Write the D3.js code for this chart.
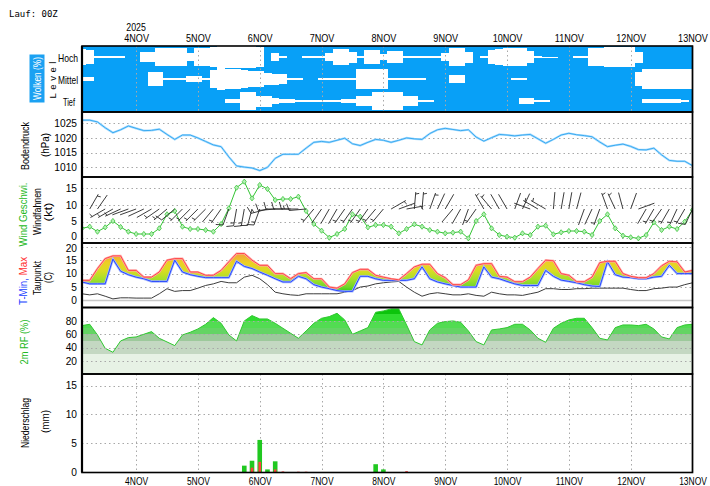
<!DOCTYPE html>
<html>
<head>
<meta charset="utf-8">
<script src="https://cdn.jsdelivr.net/npm/d3@7"></script>
<style>
  body { margin: 0; background: #fff; }
  svg { display: block; font-family: "Liberation Sans", Arial, sans-serif; }
  .tick text { font-size: 10.2px; fill: #000; }
  .grid line { stroke: #a8a8a8; stroke-dasharray: 1.5,3; }
</style>
</head>
<body>
<svg id="chart" width="710" height="486"></svg>
<script>
// 3-hourly steps, first step 3 Nov 03Z (run 00Z)
var dayLabels = ['4NOV','5NOV','6NOV','7NOV','8NOV','9NOV','10NOV','11NOV','12NOV','13NOV'];
var levels = ['Hoch', 'Mittel', 'Tief'];
var pressTicks = [1010, 1015, 1020, 1025];
var windTicks = [0, 5, 10, 15];
var tempTicks = [0, 5, 10, 15, 20];
var rhTicks = [20, 40, 60, 80];
var precipTicks = [0, 5, 10, 15];

var cloudHigh = [25,35,95,95,95,95,100,100,53,53, 15,15,15,15,60,15,15,10,0,0,
  0,0,0,5,100,65,95,100,100,95, 95,95,60,25,25,50,95,40,40,70,
  45,45,95,95,95,95,95,60,20,20, 50,100,95,35,25,20,20,20,45,95,
  98,98,100,100,95,95,20,20,10,10, 10,10,50,100,100,100,100,100,100,100];
var cloudMid = [80,80,100,100,100,100,100,100,100,35, 35,95,95,95,70,70,95,20,0,10,
  10,15,30,25,45,50,55,95,95,100, 100,95,95,95,95,90,10,10,10,10,
  95,95,95,95,95,100,100,100,65,65, 100,100,100,100,100,100,95,95,100,100,
  100,100,100,100,100,100,100,100,100,100, 100,100,40,5,5,5,5,5,5,5];
var cloudLow = [100,100,100,100,100,100,100,100,100,100, 100,100,100,100,100,100,100,100,100,80,
  80,15,15,50,50,70,80,80,95,95, 95,95,95,95,80,80,55,55,20,20,
  20,20,55,55,95,95,100,100,100,100, 100,100,100,100,100,100,100,70,70,95,
  95,100,100,100,100,100,100,100,100,100, 100,100,100,85,85,85,85,85,95,100];

var pressure = [1026.1,1026.1,1025.5,1023.5,1021.8,1022.8,1024.1,1023.3,1022.5,1022.6,
  1023.0,1021.2,1019.5,1021.0,1021.0,1020.0,1018.8,1017.6,1017.0,1013.5,
  1010.4,1010.0,1009.7,1008.8,1009.9,1013.0,1014.4,1014.4,1014.4,1016.5,
  1018.5,1018.8,1018.5,1019.2,1019.9,1018.0,1017.4,1018.5,1019.5,1019.2,
  1018.5,1019.2,1020.0,1019.7,1019.5,1021.5,1022.8,1023.3,1022.9,1022.5,
  1022.8,1020.3,1018.9,1020.1,1021.2,1021.0,1020.7,1021.0,1021.2,1019.7,
  1018.2,1019.5,1021.0,1021.6,1021.1,1020.8,1020.4,1018.6,1017.0,1017.5,
  1017.9,1017.1,1016.0,1015.9,1016.5,1014.2,1012.3,1012.0,1012.0,1010.5];

var windSpeed = [3.0,3.5,2.0,3.3,5.2,3.4,2.0,1.3,1.3,1.3,
  3.0,7.2,8.2,3.5,2.8,2.8,2.5,2.0,4.3,9.0,
  15.2,17.0,12.0,16.0,14.8,11.5,11.8,11.8,12.5,8.2,
  4.3,2.3,0.2,1.3,2.8,7.2,6.5,3.3,4.0,4.0,
  3.5,1.5,2.8,4.2,3.5,2.5,2.0,1.5,1.7,2.0,
  0.0,5.2,7.2,3.0,1.0,0.5,0.2,1.5,1.0,3.5,
  3.8,1.2,1.8,2.2,2.2,2.0,1.0,5.2,7.2,3.0,
  0.8,0.3,0.0,1.0,4.8,2.5,3.5,2.8,5.0,8.5];
var windDir = [350,30,35,240,240,245,250,250,245,240,
  235,230,230,225,225,225,225,220,215,200,
  190,190,195,200,255,265,270,270,270,265,
  220,215,210,210,215,215,215,215,220,220,
  60,70,80,5,5,20,25,30,220,210,
  200,215,330,320,330,330,20,25,290,300,
  300,5,10,10,15,200,205,200,340,335,
  345,20,70,210,210,215,210,205,210,205];

var tMax = [7.5,7.5,11.9,15.6,16.6,16.6,11.2,11.2,8.7,8.7,
  10.6,15.0,15.6,15.6,10.6,10.6,9.4,9.4,11.2,14.4,
  17.5,17.5,15.0,13.1,13.1,10.0,10.0,8.1,10.0,10.4,
  8.1,8.1,5.0,4.6,6.2,10.4,11.6,11.6,9.4,8.7,
  8.1,7.7,10.0,12.5,13.5,13.5,10.0,8.5,5.9,5.9,
  7.7,13.1,13.7,13.7,9.0,8.7,7.0,7.0,8.7,11.9,
  15.0,14.8,10.0,9.4,7.0,7.0,8.7,14.1,14.6,14.6,
  10.0,9.0,8.5,8.5,10.0,12.9,14.6,14.4,10.6,11.2];
var tMin = [6.9,6.2,6.2,6.2,15.4,10.9,9.6,8.7,8.1,7.1,
  7.1,7.1,15.0,10.6,9.6,9.0,8.5,8.5,8.5,8.5,
  14.6,12.7,11.9,10.6,9.4,8.1,6.9,6.9,9.0,8.1,
  5.9,5.0,4.4,3.7,3.4,3.4,9.0,9.0,8.1,7.5,
  7.5,7.5,7.5,8.1,12.5,8.1,6.9,6.2,5.6,5.0,
  5.0,5.0,12.5,8.7,8.1,7.1,6.2,5.6,5.6,5.6,
  11.2,9.0,7.6,7.1,6.6,5.9,5.4,5.2,14.4,9.6,
  8.7,8.5,8.1,8.1,8.7,9.0,13.1,10.0,10.0,10.0];
var dewPoint = [2.5,2.1,2.5,1.6,0.6,1.0,1.0,0.9,0.9,0.9,
  2.5,4.4,3.4,3.7,3.7,4.6,5.6,6.2,7.1,6.6,
  6.6,8.7,9.4,8.1,5.9,3.1,2.5,2.1,1.9,2.5,
  2.5,2.5,2.5,2.5,3.1,3.7,5.0,5.4,6.2,6.6,
  6.9,7.1,5.0,3.1,1.6,2.5,2.9,2.5,2.1,2.1,
  2.5,1.9,1.6,3.1,2.5,2.1,2.1,1.9,2.5,3.1,
  4.4,4.4,4.1,4.1,4.4,4.4,4.6,4.6,4.6,4.6,
  4.6,4.1,3.7,3.7,4.4,4.6,5.0,5.0,5.9,6.6];

var humidity = [73,75,59,39,33,50,55,56,60,64,
  54,48.5,43,59,63,68,75,85,76.5,59,
  50,80,88,83,83,76.5,69,61.5,54,65,
  76.5,84,86.5,91.5,81.5,60,65,70,93,95,
  98,98,74,49,44,66.5,76.5,79,80,78,
  65,49,44,66.5,68,70,75,75,66.5,54,
  48,69,76.5,81.5,84,84,70,54,51.5,70,
  74,74,73,75,68,56,53,70,74,75];

var precipTotal = [0,0,0,0,0,0,0,0,0,0, 0,0,0,0,0,0,0,0,0,0,
  0,1.15,2.0,5.6,0.5,1.9,0,0,0,0, 0,0,0,0,0,0,0,0,1.4,0.5,
  0,0,0,0,0,0,0,0,0,0, 0,0,0,0,0,0,0,0,0,0,
  0,0,0,0,0,0,0,0,0,0, 0,0,0,0,0,0,0,0,0,0];
var precipRed = [0,0,0,0,0,0,0,0,0,0, 0,0,0,0,0,0,0,0,0,0,
  0,0,0.8,1.8,0,0.5,0.15,0,0.1,0.1, 0,0,0,0,0,0,0,0,0,0,
  0,0,0.2,0,0,0,0,0,0,0, 0,0,0,0,0,0,0,0,0,0,
  0,0,0,0,0,0,0,0,0,0, 0,0,0,0,0,0,0,0,0,0];

var left = 82, right = 692.5;
var panel = {
  cloud:  {top: 46,    bottom: 112},
  press:  {top: 112,   bottom: 177},
  wind:   {top: 177,   bottom: 243},
  temp:   {top: 243,   bottom: 307.5},
  rh:     {top: 307.5, bottom: 374},
  precip: {top: 374,   bottom: 472.5}
};

var x = d3.scaleUtc()
  .domain([new Date(Date.UTC(2025, 10, 3, 3)), new Date(Date.UTC(2025, 10, 13, 0))])
  .range([left, right]);
var days = d3.utcDay.range(new Date(Date.UTC(2025, 10, 4)), new Date(Date.UTC(2025, 10, 13, 1)));

function stepTime(i) { return new Date(Date.UTC(2025, 10, 3, 3 + 3 * i)); }
function tx(d, i) { return x(stepTime(i)); }
function halfStep(i, sign) { return x(new Date(+stepTime(i) + sign * 5400000)); }

var yPress = d3.scaleLinear().domain([1006.6, 1028.9]).range([177, 112]);
var yWind  = d3.scaleLinear().domain([-1.4, 18.4]).range([243, 177]);
var yTemp  = d3.scaleLinear().domain([-2.6, 21.4]).range([307.5, 243]);
var yRh    = d3.scaleLinear().domain([0, 100]).range([374.3, 307.6]);
var yPrec  = d3.scaleLinear().domain([0, 17]).range([472.3, 374]);
var yLevel = d3.scaleBand().domain(levels).range([46, 112]);

var svg = d3.select('#chart');
svg.append('rect').attr('width', 710).attr('height', 486).attr('fill', '#fff');
var defs = svg.append('defs');

Object.keys(panel).forEach(function (k) {
  defs.append('clipPath').attr('id', 'clip-' + k)
    .append('rect')
    .attr('x', left).attr('y', panel[k].top)
    .attr('width', right - left).attr('height', panel[k].bottom - panel[k].top);
});

// gradients
var tempStops = [[2, '#00c400'], [5, '#6fd62a'], [8, '#a6e02a'], [11, '#d8dc22'], [14, '#ecd024'], [17.5, '#f0a23a']];
var tg = defs.append('linearGradient').attr('id', 'tempGrad')
  .attr('gradientUnits', 'userSpaceOnUse')
  .attr('x1', 0).attr('x2', 0).attr('y1', yTemp(0)).attr('y2', yTemp(20));
tempStops.forEach(function (s) {
  tg.append('stop').attr('offset', s[0] / 20).attr('stop-color', s[1]);
});

var rhBands = [[0, 30, '#e7f2e5'], [30, 50, '#c4d8c2'], [50, 60, '#9dc99b'], [60, 70, '#64d464'],
  [70, 80, '#52dc52'], [80, 90, '#30dc30'], [90, 100, '#0cc40c']];
var rg = defs.append('linearGradient').attr('id', 'rhGrad')
  .attr('gradientUnits', 'userSpaceOnUse')
  .attr('x1', 0).attr('x2', 0).attr('y1', yRh(0)).attr('y2', yRh(100));
rhBands.forEach(function (b) {
  rg.append('stop').attr('offset', b[0] / 100).attr('stop-color', b[2]);
  rg.append('stop').attr('offset', b[1] / 100).attr('stop-color', b[2]);
});

function hGrid(g, scale, ticks) {
  g.append('g').attr('class', 'grid')
    .selectAll('line').data(ticks).enter().append('line')
    .attr('x1', left).attr('x2', right)
    .attr('y1', function (d) { return Math.round(scale(d)) + 0.5; })
    .attr('y2', function (d) { return Math.round(scale(d)) + 0.5; });
}
function vGrid(g, p) {
  g.append('g').attr('class', 'grid')
    .selectAll('line').data(days).enter().append('line')
    .attr('x1', function (d) { return Math.round(x(d)) + 0.5; })
    .attr('x2', function (d) { return Math.round(x(d)) + 0.5; })
    .attr('y1', p.top).attr('y2', p.bottom);
}

// ---- clouds
var cg = svg.append('g').attr('clip-path', 'url(#clip-cloud)');
cg.append('rect').attr('x', left).attr('y', panel.cloud.top)
  .attr('width', right - left).attr('height', panel.cloud.bottom - panel.cloud.top)
  .attr('fill', '#08a0f7');
[cloudHigh, cloudMid, cloudLow].forEach(function (series, li) {
  var mid = yLevel(levels[li]) + yLevel.bandwidth() / 2;
  var half = yLevel.bandwidth() / 2;
  var cells = series.map(function (c, i) { return {c: c, i: i}; })
    .filter(function (d) { return d.c < 100; });
  cg.append('g').selectAll('rect').data(cells).enter().append('rect')
    .attr('shape-rendering', 'crispEdges')
    .attr('fill', '#fff')
    .attr('x', function (d) { return halfStep(d.i, -1); })
    .attr('width', function (d) { return halfStep(d.i, 1) - halfStep(d.i, -1) + 0.3; })
    .attr('y', function (d) { return mid - Math.max(0.5, (100 - d.c) / 100 * half); })
    .attr('height', function (d) { return 2 * Math.max(0.5, (100 - d.c) / 100 * half); });
});
vGrid(cg, panel.cloud);

// ---- pressure
var pg = svg.append('g').attr('clip-path', 'url(#clip-press)');
hGrid(pg, yPress, pressTicks);
var pressLine = d3.line().x(tx).y(function (d) { return yPress(d); });
pg.append('path').datum(pressure).attr('d', pressLine)
  .attr('fill', 'none').attr('stroke', '#a8dcff').attr('stroke-width', 2.2);
pg.append('path').datum(pressure).attr('d', pressLine)
  .attr('fill', 'none').attr('stroke', '#3aaaf0').attr('stroke-width', 1);

// ---- wind
var wg = svg.append('g').attr('clip-path', 'url(#clip-wind)');
hGrid(wg, yWind, windTicks);
var windLine = d3.line().x(tx).y(function (d) { return yWind(d); });
wg.append('path').datum(windSpeed).attr('d', windLine)
  .attr('fill', 'none').attr('stroke', '#33c433').attr('stroke-width', 1);
wg.append('g').selectAll('path').data(windSpeed).enter().append('path')
  .attr('d', 'M0,-2.6L2.1,0L0,2.6L-2.1,0Z')
  .attr('transform', function (d, i) { return 'translate(' + tx(d, i) + ',' + yWind(d) + ')'; })
  .attr('fill', '#b4f0b4').attr('stroke', '#3cc43c').attr('stroke-width', 0.8);

// wind barbs, staff points into the wind, feathers on clockwise side
var barbBase = 209, staffLen = 17;
function barbPath(i) {
  var cx = tx(null, i), cy = barbBase;
  var a = windDir[i] * Math.PI / 180;
  var ux = Math.sin(a), uy = -Math.cos(a);
  var px = -uy, py = ux;
  var tipx = cx + ux * staffLen, tipy = cy + uy * staffLen;
  var p = 'M' + cx + ',' + cy + 'L' + tipx + ',' + tipy;
  var s = Math.round(windSpeed[i] / 5) * 5;
  var pos = 0;
  while (s >= 10) {
    var bx = tipx - ux * pos, by = tipy - uy * pos;
    p += 'M' + bx + ',' + by + 'L' + (bx + px * 7 + ux * 2) + ',' + (by + py * 7 + uy * 2);
    pos += 3; s -= 10;
  }
  if (s >= 5) {
    if (pos === 0) pos = 2;
    var hx = tipx - ux * pos, hy = tipy - uy * pos;
    p += 'M' + hx + ',' + hy + 'L' + (hx + px * 3.5 + ux * 1) + ',' + (hy + py * 3.5 + uy * 1);
  }
  return p;
}
wg.append('g').selectAll('path').data(windDir).enter().append('path')
  .attr('d', function (d, i) { return barbPath(i); })
  .attr('fill', 'none').attr('stroke', '#262626').attr('stroke-width', 0.9);

// ---- temperature
var tgp = svg.append('g').attr('clip-path', 'url(#clip-temp)');
hGrid(tgp, yTemp, tempTicks.filter(function (d) { return d !== 0; }));
tgp.append('line').attr('x1', left).attr('x2', right)
  .attr('y1', yTemp(0)).attr('y2', yTemp(0))
  .attr('stroke', '#c8c8c8').attr('stroke-width', 1.5);
var tempArea = d3.area().x(tx)
  .y0(function (d, i) { return yTemp(tMin[i]); })
  .y1(function (d, i) { return yTemp(tMax[i]); });
tgp.append('path').datum(tMax).attr('d', tempArea).attr('fill', 'url(#tempGrad)');
var tLine = d3.line().x(tx).y(function (d) { return yTemp(d); });
tgp.append('path').datum(dewPoint).attr('d', tLine)
  .attr('fill', 'none').attr('stroke', '#3c3c3c').attr('stroke-width', 1);
tgp.append('path').datum(tMin).attr('d', tLine)
  .attr('fill', 'none').attr('stroke', '#a6b8ff').attr('stroke-width', 2.4);
tgp.append('path').datum(tMin).attr('d', tLine)
  .attr('fill', 'none').attr('stroke', '#2848ff').attr('stroke-width', 1);
tgp.append('path').datum(tMax).attr('d', tLine)
  .attr('fill', 'none').attr('stroke', '#ffaaaa').attr('stroke-width', 2.2);
tgp.append('path').datum(tMax).attr('d', tLine)
  .attr('fill', 'none').attr('stroke', '#ff4a4a').attr('stroke-width', 1);

// ---- relative humidity
var rgp = svg.append('g').attr('clip-path', 'url(#clip-rh)');
var rhArea = d3.area().x(tx).y0(yRh(0)).y1(function (d) { return yRh(d); });
rgp.append('path').datum(humidity).attr('d', rhArea).attr('fill', 'url(#rhGrad)');
rgp.append('path').datum(humidity).attr('d', d3.line().x(tx).y(function (d) { return yRh(d); }))
  .attr('fill', 'none').attr('stroke', '#30c830').attr('stroke-width', 1);
hGrid(rgp, yRh, rhTicks);

// ---- precipitation
var prg = svg.append('g').attr('clip-path', 'url(#clip-precip)');
hGrid(prg, yPrec, precipTicks.filter(function (d) { return d !== 0; }));
vGrid(prg, panel.precip);
prg.append('g').selectAll('rect').data(precipTotal).enter()
  .append('rect')
  .attr('x', function (d, i) { return tx(d, i) - 2.3; })
  .attr('width', 4.6)
  .attr('y', function (d) { return yPrec(d); })
  .attr('height', function (d) { return yPrec(0) - yPrec(d); })
  .attr('fill', '#20c820');
prg.append('g').selectAll('rect').data(precipRed).enter()
  .append('rect')
  .attr('x', function (d, i) { return tx(d, i) - 1.3; })
  .attr('width', 2.6)
  .attr('y', function (d) { return yPrec(d); })
  .attr('height', function (d) { return yPrec(0) - yPrec(d); })
  .attr('fill', '#ff4040');

// ---- frames
Object.keys(panel).forEach(function (k) {
  svg.append('rect')
    .attr('x', left).attr('y', panel[k].top)
    .attr('width', right - left).attr('height', panel[k].bottom - panel[k].top)
    .attr('fill', 'none').attr('stroke', '#000').attr('stroke-width', 1.6);
});
svg.append('line').attr('x1', left).attr('x2', left)
  .attr('y1', panel.cloud.top).attr('y2', panel.precip.bottom)
  .attr('stroke', '#000').attr('stroke-width', 2.2);
svg.append('line').attr('x1', right).attr('x2', right)
  .attr('y1', panel.cloud.top).attr('y2', panel.precip.bottom)
  .attr('stroke', '#000').attr('stroke-width', 1.2);

// ---- y axes
function leftAxis(scale, ticks) {
  var g = svg.append('g').attr('transform', 'translate(' + left + ',0)')
    .call(d3.axisLeft(scale).tickValues(ticks).tickSize(0).tickPadding(5)
      .tickFormat(d3.format('d')));
  g.select('.domain').remove();
  return g;
}
leftAxis(yPress, pressTicks);
// the wind "0" and temperature "20" labels sit at the shared panel edge
leftAxis(yWind, windTicks).selectAll('text')
  .filter(function (d) { return d === 0; }).attr('dy', '0.12em');
leftAxis(yTemp, tempTicks).selectAll('text')
  .filter(function (d) { return d === 20; }).attr('dy', '0.5em');
leftAxis(yRh, rhTicks);
leftAxis(yPrec, precipTicks);

// ---- time axes (narrow lettering via horizontal squeeze)
function dayAxis(y, size, squeeze) {
  var g = svg.append('g').attr('transform', 'translate(0,' + y + ')')
    .call(d3.axisTop(x).tickValues(days).tickSize(0).tickPadding(0)
      .tickFormat(function (d, i) { return dayLabels[i]; }));
  g.select('.domain').remove();
  g.selectAll('text').style('font-size', size + 'px')
    .attr('transform', 'scale(' + squeeze + ',1)');
  return g;
}
dayAxis(42, 11.5, 0.79);
dayAxis(485, 11, 0.77);
svg.append('text').attr('transform', 'translate(' + x(days[0]) + ',30.5) scale(0.8,1)')
  .attr('text-anchor', 'middle').style('font-size', '11px')
  .text('2025');

svg.append('text').attr('x', 9).attr('y', 17)
  .style('font-family', '"DejaVu Sans Mono", monospace').style('font-size', '9px')
  .text('Lauf: 00Z');

// ---- cloud level labels
svg.append('rect').attr('x', 29.5).attr('y', 54.5).attr('width', 15).attr('height', 48)
  .attr('fill', '#1ba1f2');
svg.append('text').attr('transform', 'translate(41,78.5) rotate(-90)')
  .attr('text-anchor', 'middle').attr('fill', '#fff').style('font-size', '10.5px')
  .attr('textLength', 43).attr('lengthAdjust', 'spacingAndGlyphs')
  .text('Wolken (%)');
svg.append('text').attr('transform', 'translate(56,80) rotate(-90)')
  .attr('text-anchor', 'middle').style('font-size', '9.5px')
  .attr('textLength', 37).attr('lengthAdjust', 'spacing')
  .text('Level');
var levelWidth = {Hoch: 20, Mittel: 20, Tief: 12};
svg.append('g').selectAll('text').data(levels).enter().append('text')
  .attr('x', function (d) { return d === 'Tief' ? 75 : 78; })
  .attr('y', function (d) { return yLevel(d) + yLevel.bandwidth() / 2 + 4.5; })
  .attr('text-anchor', 'end').style('font-size', '11px')
  .attr('textLength', function (d) { return levelWidth[d]; })
  .attr('lengthAdjust', 'spacingAndGlyphs')
  .text(function (d) { return d; });

// ---- rotated panel titles
function vLabel(txt, cx, cy, len, color) {
  return svg.append('text')
    .attr('transform', 'translate(' + cx + ',' + cy + ') rotate(-90)')
    .attr('text-anchor', 'middle').attr('fill', color || '#000')
    .style('font-size', '10.5px')
    .attr('textLength', len).attr('lengthAdjust', 'spacingAndGlyphs')
    .text(txt);
}
vLabel('Bodendruck', 29, 146, 48);
vLabel('(hPa)', 48.5, 145, 24);
vLabel('Wind Geschwi.', 27, 214.5, 64, '#22b822');
vLabel('Windfahnen', 41, 211.5, 47);
vLabel('(kt)', 52, 212, 19);
var tl = svg.append('text')
  .attr('transform', 'translate(27,281) rotate(-90)')
  .attr('text-anchor', 'middle').style('font-size', '10.5px')
  .attr('textLength', 48).attr('lengthAdjust', 'spacingAndGlyphs');
tl.append('tspan').attr('fill', '#2040ff').text('T-Min, ');
tl.append('tspan').attr('fill', '#ff3030').text('Max');
vLabel('Taupunkt', 41, 278, 34);
vLabel('(C)', 52, 277.5, 11);
vLabel('2m RF (%)', 28, 342, 45, '#22b822');
vLabel('Niederschlag', 29, 423, 50);
vLabel('(mm)', 49, 421.5, 23);
</script>
</body>
</html>
